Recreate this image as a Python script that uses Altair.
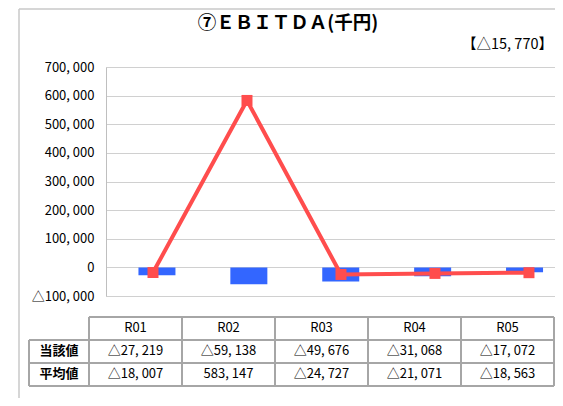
import altair as alt
import pandas as pd

categories = ["R01", "R02", "R03", "R04", "R05"]
current_vals = [-27219, -59138, -49676, -31068, -17072]
average_vals = [-18007, 583147, -24727, -21071, -18563]
row_labels = ["当該値", "平均値"]
title_text = "⑦ＥＢＩＴＤＡ(千円)"
note_text = "【△15, 770】"
y_ticks = list(range(-100000, 700001, 100000))

JP = "Noto Sans CJK JP"
BAR_C = "#3366ff"
LINE_C = "#ff4d4d"
GRID_C = "#a6a6a6"


def fmt(v):
    s = f"{abs(v):,}".replace(",", ", ")
    return ("△" + s) if v < 0 else s


n = len(categories)
df = pd.DataFrame({
    "idx": list(range(n)),
    "cat": categories,
    "cur": current_vals,
    "avg": average_vals,
})

xs = alt.Scale(domain=[-0.5, 4.277])
ys = alt.Scale(domain=[-100000, 700000])

label_expr = ("datum.value < 0 ? '△' + replace(format(-datum.value, ','), ',', ', ') "
              ": replace(format(datum.value, ','), ',', ', ')")

base = alt.Chart(df)
bars = base.mark_bar(size=37, color=BAR_C).encode(
    x=alt.X("idx:Q", scale=xs, axis=None),
    y=alt.Y("cur:Q", scale=ys, axis=alt.Axis(
        values=y_ticks, labelExpr=label_expr, ticks=False, title=None,
        domainColor="#bfbfbf", gridColor="#d0d0d0", labelFont=JP,
        labelFontSize=13, labelColor="#000000", labelPadding=12)),
)
line = base.mark_line(color=LINE_C, strokeWidth=4).encode(
    x=alt.X("idx:Q", scale=xs, axis=None),
    y=alt.Y("avg:Q", scale=ys, axis=None),
)
pts = base.mark_square(size=121, color=LINE_C, opacity=1).encode(
    x=alt.X("idx:Q", scale=xs, axis=None),
    y=alt.Y("avg:Q", scale=ys, axis=None),
)

# table
tx = alt.Scale(domain=[0.183, 5.011])
ty = alt.Scale(domain=[-10.87, -0.913], reverse=True)
LBL_L = -0.645

cells = []
for i, c in enumerate(categories):
    cells.append({"c": i + 0.5, "r": 0.5, "t": c})
    cells.append({"c": i + 0.5, "r": 1.5, "t": fmt(current_vals[i])})
    cells.append({"c": i + 0.5, "r": 2.5, "t": fmt(average_vals[i])})
cells_df = pd.DataFrame(cells)
labels_df = pd.DataFrame({"c": [LBL_L / 2] * len(row_labels),
                          "r": [1.5 + j for j in range(len(row_labels))],
                          "t": row_labels})

segs = [{"x": 0, "x2": n, "y": 0, "y2": 0}]
for r in range(1, 4):
    segs.append({"x": LBL_L, "x2": n, "y": r, "y2": r})
segs.append({"x": LBL_L, "x2": LBL_L, "y": 1, "y2": 3})
for b in range(n + 1):
    segs.append({"x": b, "x2": b, "y": 0, "y2": 3})
segs_df = pd.DataFrame(segs)

tbl_lines = alt.Chart(segs_df).mark_rule(color=GRID_C, strokeWidth=2).encode(
    x=alt.X("x:Q", scale=tx, axis=None), x2="x2:Q",
    y=alt.Y("y:Q", scale=ty, axis=None), y2="y2:Q",
)
tbl_text = alt.Chart(cells_df).mark_text(font=JP, fontSize=13, color="#000000",
                                         baseline="middle").encode(
    x=alt.X("c:Q", scale=tx, axis=None),
    y=alt.Y("r:Q", scale=ty, axis=None),
    text="t:N",
)
tbl_labels = alt.Chart(labels_df).mark_text(font=JP, fontSize=13, color="#000000",
                                            fontWeight="bold", baseline="middle").encode(
    x=alt.X("c:Q", scale=tx, axis=None),
    y=alt.Y("r:Q", scale=ty, axis=None),
    text="t:N",
)

title = alt.Chart(pd.DataFrame({"t": [title_text]})).mark_text(
    font=JP, fontSize=18.5, fontWeight="bold", color="#000000", baseline="middle"
).encode(x=alt.value(182), y=alt.value(-44), text="t:N")
note = alt.Chart(pd.DataFrame({"t": [note_text]})).mark_text(
    font=JP, fontSize=14.5, color="#000000", align="right", baseline="middle"
).encode(x=alt.value(447), y=alt.value(-22), text="t:N")

frame_l = alt.Chart(pd.DataFrame({"a": [0]})).mark_rule(color="#c8c8c8", strokeWidth=1.5).encode(
    x=alt.value(-87), y=alt.value(-58), y2=alt.value(331))
frame_t = alt.Chart(pd.DataFrame({"a": [0]})).mark_rule(color="#c8c8c8", strokeWidth=1.5).encode(
    x=alt.value(-87), x2=alt.value(449), y=alt.value(-58))

chart = alt.layer(
    frame_l, frame_t, bars, line, pts, tbl_lines, tbl_text, tbl_labels, title, note
).resolve_scale(x="independent", y="independent").properties(
    width=449, height=229,
    autosize=alt.AutoSizeParams(type="none"),
    padding={"left": 98, "top": 59, "right": 0, "bottom": 102},
).configure_view(stroke=None).configure(background="white")

chart.save("out.html", embed_options={"renderer": "svg", "actions": False})
